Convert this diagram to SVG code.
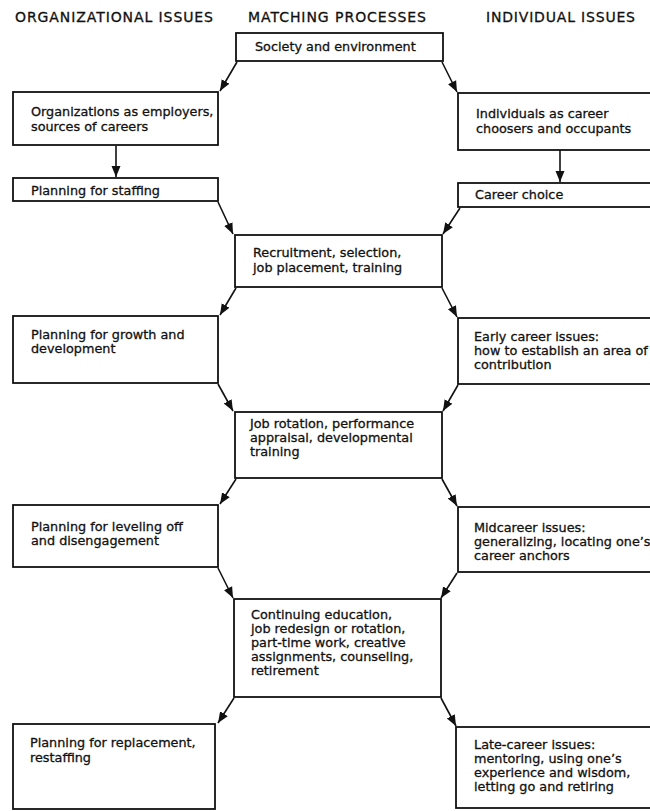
<svg xmlns="http://www.w3.org/2000/svg" width="650" height="811" viewBox="0 0 650 811">
<defs>
<style>
.hdr{font-family:"DejaVu Sans","Liberation Sans",sans-serif;font-size:14px;fill:#111;stroke:#111;stroke-width:0.3;}
.t{font-family:"DejaVu Sans","Liberation Sans",sans-serif;font-size:12.8px;fill:#111;stroke:#111;stroke-width:0.3;}
.box{fill:#fff;stroke:#111;stroke-width:1.8;}
.arr{fill:none;stroke:#111;stroke-width:1.6;marker-end:url(#ah);}
</style>
<marker id="ah" markerUnits="userSpaceOnUse" markerWidth="12" markerHeight="12" viewBox="0 0 12 12" refX="11" refY="6" orient="auto">
<path d="M0,1.5 L11,6 L0,10.5 Z" fill="#111"/>
</marker>
</defs>
<rect width="650" height="811" fill="#fff"/>
<g id="headers">
<text class="hdr" x="15" y="22" textLength="198">ORGANIZATIONAL ISSUES</text>
<text class="hdr" x="248" y="22" textLength="178">MATCHING PROCESSES</text>
<text class="hdr" x="486" y="22" textLength="149">INDIVIDUAL ISSUES</text>
</g>
<g id="connectors">
<line class="arr" x1="237" y1="62" x2="220" y2="91"/>
<line class="arr" x1="442" y1="62" x2="457" y2="92"/>
<line class="arr" x1="116" y1="146" x2="116" y2="177"/>
<line class="arr" x1="560" y1="150" x2="560" y2="182"/>
<line class="arr" x1="218" y1="202" x2="233" y2="234"/>
<line class="arr" x1="460" y1="208" x2="443" y2="234"/>
<line class="arr" x1="236" y1="288" x2="220" y2="315"/>
<line class="arr" x1="442" y1="288" x2="457" y2="317"/>
<line class="arr" x1="218" y1="384" x2="233" y2="411"/>
<line class="arr" x1="458" y1="385" x2="443" y2="411"/>
<line class="arr" x1="236" y1="479" x2="220" y2="504"/>
<line class="arr" x1="442" y1="479" x2="457" y2="506"/>
<line class="arr" x1="218" y1="568" x2="233" y2="598"/>
<line class="arr" x1="457" y1="573" x2="441" y2="598"/>
<line class="arr" x1="234" y1="698" x2="218" y2="723"/>
<line class="arr" x1="441" y1="698" x2="456" y2="726"/>
</g>
<g id="society">
<rect class="box" x="236" y="33" width="207" height="28"/>
<text class="t" x="255" y="51">Society and environment</text>
</g>
<g id="org-employers">
<rect class="box" x="13" y="92" width="205" height="53"/>
<text class="t" x="31" y="116">Organizations as employers,</text>
<text class="t" x="31" y="131">sources of careers</text>
</g>
<g id="ind-choosers">
<rect class="box" x="458" y="93" width="200" height="57"/>
<text class="t" x="476" y="118">Individuals as career</text>
<text class="t" x="476" y="133">choosers and occupants</text>
</g>
<g id="planning-staffing">
<rect class="box" x="13" y="178" width="205" height="23"/>
<text class="t" x="31" y="195">Planning for staffing</text>
</g>
<g id="career-choice">
<rect class="box" x="458" y="183" width="200" height="24"/>
<text class="t" x="475" y="199">Career choice</text>
</g>
<g id="recruitment">
<rect class="box" x="235" y="235" width="207" height="52"/>
<text class="t" x="253" y="257">Recruitment, selection,</text>
<text class="t" x="253" y="272">job placement, training</text>
</g>
<g id="planning-growth">
<rect class="box" x="13" y="316" width="205" height="67"/>
<text class="t" x="31" y="339">Planning for growth and</text>
<text class="t" x="31" y="353">development</text>
</g>
<g id="early-career">
<rect class="box" x="458" y="318" width="200" height="66"/>
<text class="t" x="474" y="341">Early career issues:</text>
<text class="t" x="474" y="355">how to establish an area of</text>
<text class="t" x="474" y="369">contribution</text>
</g>
<g id="job-rotation">
<rect class="box" x="235" y="412" width="207" height="66"/>
<text class="t" x="250" y="428">Job rotation, performance</text>
<text class="t" x="250" y="442">appraisal, developmental</text>
<text class="t" x="250" y="456">training</text>
</g>
<g id="planning-leveling">
<rect class="box" x="13" y="505" width="205" height="62"/>
<text class="t" x="31" y="531">Planning for leveling off</text>
<text class="t" x="31" y="545">and disengagement</text>
</g>
<g id="midcareer">
<rect class="box" x="458" y="507" width="200" height="65"/>
<text class="t" x="474" y="532">Midcareer issues:</text>
<text class="t" x="474" y="546">generalizing, locating one’s</text>
<text class="t" x="474" y="560">career anchors</text>
</g>
<g id="continuing-education">
<rect class="box" x="234" y="599" width="207" height="98"/>
<text class="t" x="251" y="619">Continuing education,</text>
<text class="t" x="251" y="633">job redesign or rotation,</text>
<text class="t" x="251" y="647">part-time work, creative</text>
<text class="t" x="251" y="661">assignments, counseling,</text>
<text class="t" x="251" y="675">retirement</text>
</g>
<g id="planning-replacement">
<rect class="box" x="13" y="724" width="202" height="85"/>
<text class="t" x="30" y="747">Planning for replacement,</text>
<text class="t" x="30" y="762">restaffing</text>
</g>
<g id="late-career">
<rect class="box" x="456" y="727" width="202" height="81"/>
<text class="t" x="474" y="749">Late-career issues:</text>
<text class="t" x="474" y="763">mentoring, using one’s</text>
<text class="t" x="474" y="777">experience and wisdom,</text>
<text class="t" x="474" y="791">letting go and retiring</text>
</g>
</svg>
